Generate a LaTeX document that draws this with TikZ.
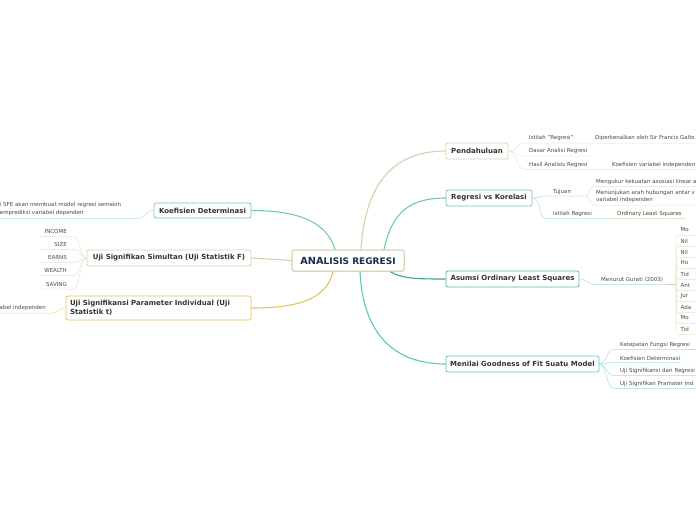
\documentclass[tikz,border=0pt]{standalone}
\usepackage{fontspec}
\setmainfont{DejaVu Sans}
\definecolor{txt}{HTML}{333333}
\definecolor{txtb}{HTML}{4A4A4A}
\definecolor{navy}{HTML}{1C2B4F}
\definecolor{beigeB}{HTML}{D8CFAE}
\definecolor{beigeL}{HTML}{E9E3CC}
\definecolor{greenB}{HTML}{74C9A9}
\definecolor{greenL}{HTML}{B3E0CF}
\definecolor{dgreen}{HTML}{43A386}
\definecolor{agreen}{HTML}{5CB99C}
\definecolor{tealB}{HTML}{5CC8C0}
\definecolor{tealL}{HTML}{A5E0DC}
\definecolor{goldB}{HTML}{E2C55A}
\definecolor{goldL}{HTML}{EEDC9C}
\tikzset{
  mainbox/.style={draw, rounded corners=2pt, fill=white, line width=0.8pt,
    font=\fontsize{7}{8.6}\selectfont\bfseries, text=txt, inner sep=0pt},
  small/.style={font=\fontsize{5.5}{7.4}\selectfont, text=txtb, inner sep=0pt},
  conn/.style={line width=1.1pt},
  subl/.style={line width=0.5pt},
  rootbox/.style={mainbox, draw=beigeB, line width=1pt, minimum width=112pt, minimum height=21pt, text=navy},
}
\newcommand{\roottext}{{\fontsize{9.8}{11}\selectfont ANA}{\fontsize{9}{11}\selectfont LISIS REGRESI}}
\begin{document}
\begin{tikzpicture}[x=1pt,y=-1pt]
\useasboundingbox (0,0) rectangle (696,520);
\fill[white] (0,0) rectangle (696,520);

% ---------- main nodes ----------
\node[rootbox] (root) at (348,260.5) {\roottext};
\node[mainbox, draw=beigeB, minimum width=62pt, minimum height=16pt] (pend) at (477,151) {Pendahuluan};
\node[mainbox, draw=greenB, minimum width=86pt, minimum height=16pt] (rvk) at (489,198) {Regresi vs Korelasi};
\node[mainbox, draw=agreen, minimum width=133pt, minimum height=16pt] (ols) at (512.5,279) {Asumsi Ordinary Least Squares};
\node[mainbox, draw=tealB, minimum width=153pt, minimum height=16pt] (gof) at (522.5,364) {Menilai Goodness of Fit Suatu Model};
\node[mainbox, draw=greenB, minimum width=97pt, minimum height=15pt] (kd) at (202.5,210.5) {Koefisien Determinasi};
\node[mainbox, draw=beigeB, minimum width=164pt, minimum height=16pt] (ujf) at (169,258) {Uji Signifikan Simultan (Uji Statistik F)};
\node[mainbox, draw=goldB, minimum width=185pt, minimum height=24pt, align=left, text width=177pt] (ujt) at (158.5,308)
  {Uji Signifikansi Parameter Individual (Uji\\Statistik t)};

% ---------- main connectors ----------
\draw[conn, beigeB] ([xshift=13pt]root.north) .. controls (365,185) and (392,151) .. (pend.west);
\draw[conn, greenB] ([xshift=36pt]root.north) .. controls (392,212) and (410,198) .. (rvk.west);
\draw[conn, dgreen] ([xshift=42pt]root.south) .. controls (402,279) and (420,279) .. (ols.west);
\draw[conn, tealB] ([xshift=12pt]root.south) .. controls (363,335) and (395,364) .. (gof.west);
\draw[conn, greenB] ([xshift=-13pt]root.north) .. controls (326,218) and (290,210.5) .. (kd.east);
\draw[conn, beigeB] (root.west) -- (ujf.east);
\draw[conn, goldB] ([xshift=-15pt]root.south) .. controls (326,302) and (292,308) .. (ujt.east);
\node[rootbox] at (348,260.5) {\roottext};

% ---------- Pendahuluan ----------
\node[small, anchor=west] (p1) at (529,138) {Istilah "Regresi"};
\node[small, anchor=west] (p1c) at (595,138) {Diperkenalkan oleh Sir Francis Galto};
\node[small, anchor=west] (p2) at (529,150.5) {Dasar Analisi Regresi};
\node[small, anchor=west] (p3) at (529,164.5) {Hasil Analisis Regresi};
\node[small, anchor=west] (p3c) at (612,164.5) {Koefisien variabel independen};
\coordinate (p1a) at (525,143); \coordinate (p1b) at (591,143); \coordinate (p1e) at (700,143);
\coordinate (p2a) at (525,156); \coordinate (p2b) at (591,156);
\coordinate (p3a) at (525,169.5); \coordinate (p3b) at (606,169.5); \coordinate (p3e) at (700,169.5);
\draw[subl, beigeL] (pend.east) .. controls (517,151) and (516,143) .. (p1a) -- (p1b) -- (p1e);
\draw[subl, beigeL] (pend.east) .. controls (517,151) and (516,156) .. (p2a) -- (p2b);
\draw[subl, beigeL] (pend.east) .. controls (517,151) and (516,169.5) .. (p3a) -- (p3b) -- (p3e);

% ---------- Regresi vs Korelasi ----------
\node[small, anchor=west] (r1) at (553,191.5) {Tujuan};
\node[small, anchor=west] (r2) at (553,214) {Istilah Regresi};
\node[small, anchor=west] (r2c) at (617,214) {Ordinary Least Squares};
\node[small, anchor=west] (r1c1) at (596,182.3) {Mengukur kekuatan asosiasi linear a};
\node[small, anchor=north west, align=left] (r1c2) at (596,190) {Menunjukan arah hubungan antar v\\variabel independen};
\coordinate (r1a) at (545,196); \coordinate (r1b) at (586,196);
\coordinate (r2a) at (545,218.5); \coordinate (r2b) at (610,218.5); \coordinate (r2e) at (686,218.5);
\coordinate (c1a) at (593,186.5); \coordinate (c1e) at (700,186.5);
\coordinate (c2a) at (593,205); \coordinate (c2e) at (700,205);
\draw[subl, greenL] (rvk.east) .. controls (540,198) and (538,196) .. (r1a) -- (r1b);
\draw[subl, greenL] (rvk.east) .. controls (542,198) and (538,218.5) .. (r2a) -- (r2b);
\draw[subl, beigeL] (r2b) -- (r2e);
\draw[subl, beigeL] (r1b) .. controls (590,196) and (589,186.5) .. (c1a) -- (c1e);
\draw[subl, beigeL] (r1b) .. controls (590,196) and (589,205) .. (c2a) -- (c2e);

% ---------- Asumsi OLS ----------
\node[small, anchor=west] (o1) at (601,279.5) {Menurut Gurati (2003)};
\coordinate (o1a) at (595,284.5); \coordinate (o1b) at (666,284.5); \coordinate (o1m) at (676,284.5);
\draw[subl, greenL] (ols.east) .. controls (588,279) and (586,284.5) .. (o1a) -- (o1b);
\draw[subl, beigeB] (o1b) -- (o1m);
\foreach \t [count=\i] in {Mo,Nil,Nil,Ho,Tid,Ant,Jur,Ada,Mo,Tid} {
  \node[small, anchor=west] (oi\i) at (680.5,{219+11*\i}) {\t};
  \coordinate (oe\i) at (700,{224.5+11*\i});
  \draw[subl, beigeL, rounded corners=3pt] (o1m) |- (oe\i);
}

% ---------- Menilai Goodness of Fit ----------
\node[small, anchor=west] (g1) at (620,345) {Ketepatan Fungsi Regresi};
\node[small, anchor=west] (g2) at (620,358.3) {Koefisien Determinasi};
\node[small, anchor=west] (g3) at (620,371) {Uji Signifikansi dari Regresi};
\node[small, anchor=west] (g4) at (620,384) {Uji Signifikan Pramater Ind};
\coordinate (g1a) at (614,349.5); \coordinate (g1e) at (700,349.5);
\coordinate (g2a) at (614,362.5); \coordinate (g2e) at (681,362.5);
\coordinate (g3a) at (614,375.5); \coordinate (g3e) at (700,375.5);
\coordinate (g4a) at (614,388.5); \coordinate (g4e) at (700,388.5);
\foreach \k in {1,2,3,4} {
  \draw[subl, tealL] (gof.east) .. controls (607,364) and (606,{336.5+13*\k}) .. (g\k a) -- (g\k e);
}

% ---------- Koefisien Determinasi (left) ----------
\node[small, anchor=north west, align=left] (kdc) at (-0.3,202.5) {i SFE akan membuat model regresi semakin\\emprediksi variabel dependen};
\coordinate (kda) at (-5,218.3); \coordinate (kdb) at (138,218.3);
\draw[subl, greenL] (kda) -- (kdb) .. controls (146,218.3) and (145,210.5) .. (kd.west);

% ---------- Uji F (left) ----------
\foreach \w/\y [count=\i] in {INCOME/231.7, SIZE/244.3, EARNS/257.7, WEALTH/270.5, SAVING/284} {
  \node[small, anchor=east] (f\i) at (67,\y) {\w};
  \coordinate (fa\i) at (40,\y+5); \coordinate (fb\i) at (74,\y+5);
  \draw[subl, beigeL] (ujf.west) .. controls (80,258) and (80,\y+5) .. (fb\i) -- (fa\i);
}

% ---------- Uji t (left) ----------
\node[small, anchor=west] (tc) at (-0.5,308) {abel independen};
\coordinate (ta) at (-5,313); \coordinate (tb) at (52,313);
\draw[subl, goldL] (ta) -- (tb) .. controls (59,313) and (58,308) .. (ujt.west);
\end{tikzpicture}
\end{document}
